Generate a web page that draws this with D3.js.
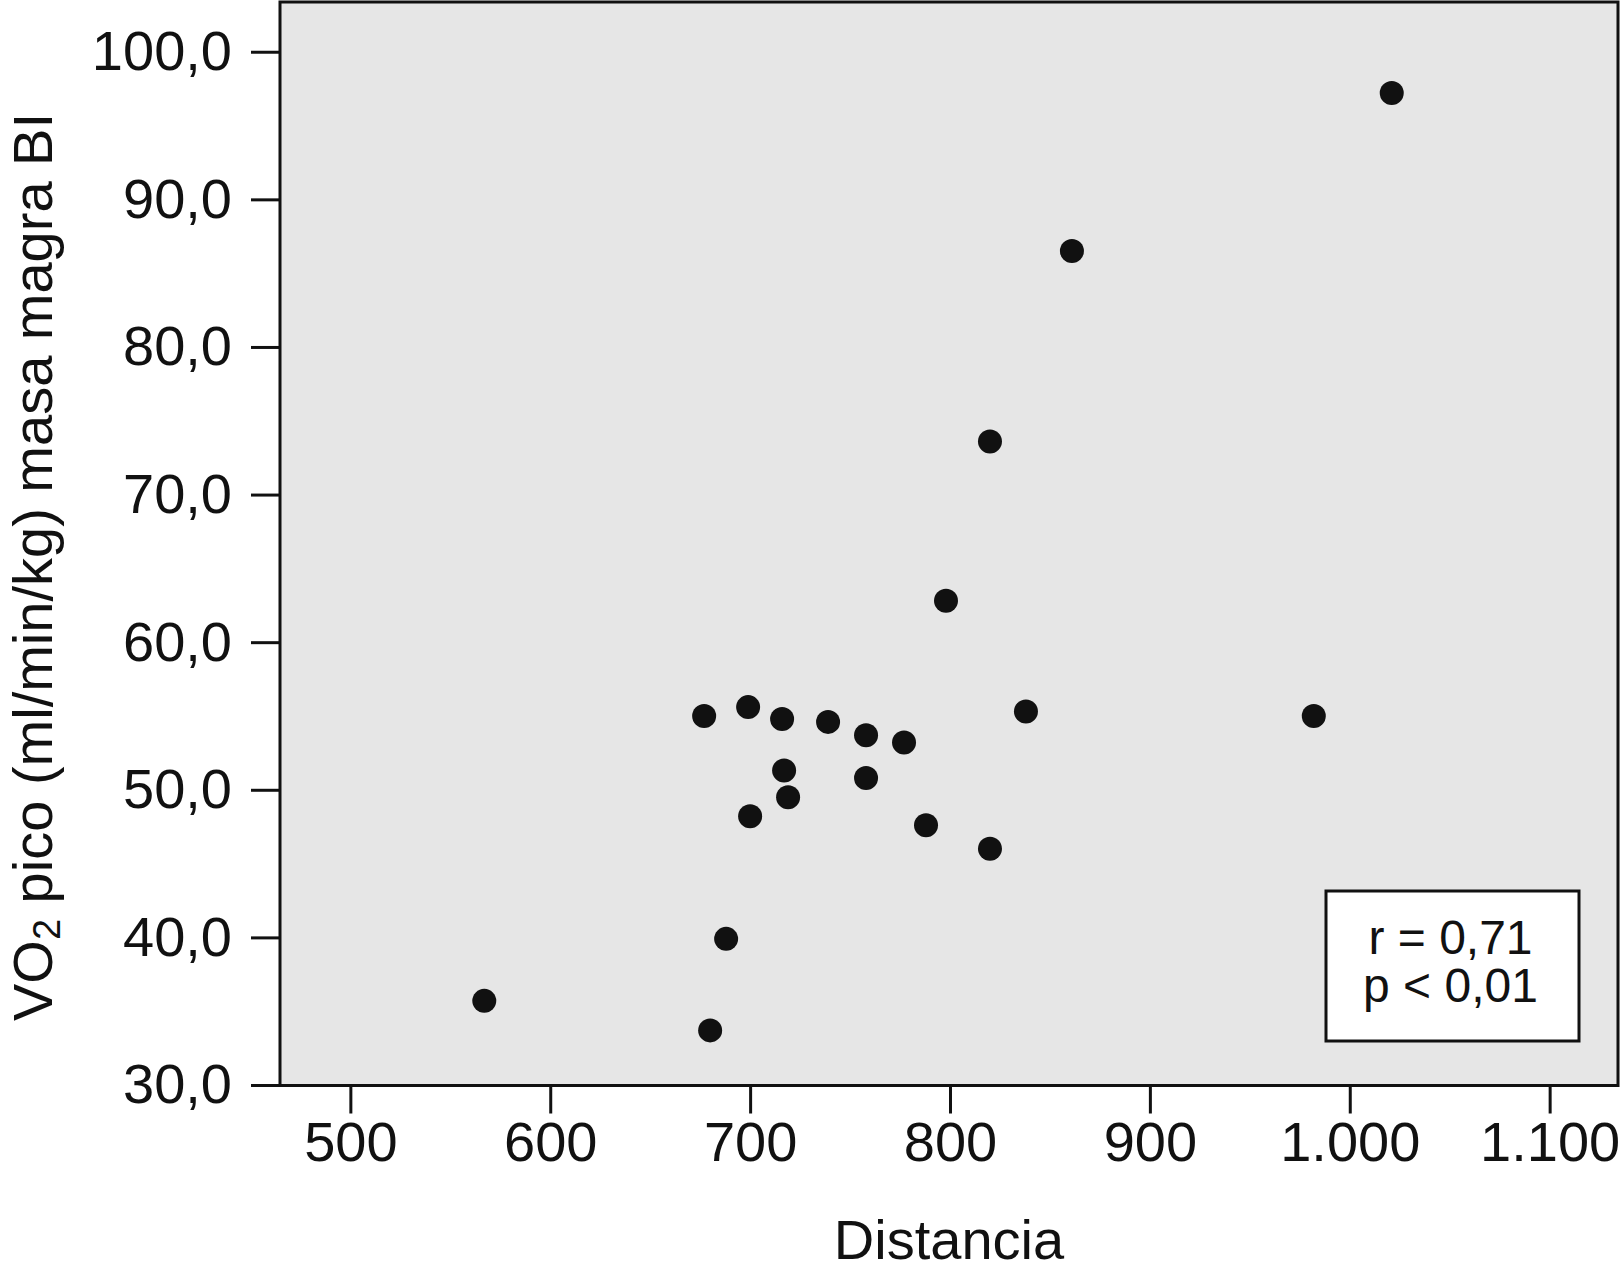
<!DOCTYPE html>
<html>
<head>
<meta charset="utf-8">
<script src="https://cdn.jsdelivr.net/npm/d3@7"></script>
<style>
  body { margin: 0; background: #fff; }
  svg text { font-family: "Liberation Sans", Arial, sans-serif; fill: #111; }
</style>
</head>
<body>
<div id="chart"></div>
<script>
// data
var distancia = [1021, 861, 820, 798, 677, 699, 716, 739, 758, 777, 838, 982, 717, 758, 719, 700, 788, 820, 688, 567, 680];
var vo2pico   = [97.2, 86.5, 73.6, 62.8, 55.0, 55.6, 54.8, 54.6, 53.7, 53.2, 55.3, 55.0, 51.3, 50.8, 49.5, 48.2, 47.6, 46.0, 39.9, 35.7, 33.7];
var xTicks = [500, 600, 700, 800, 900, 1000, 1100];
var xTickLabels = ["500", "600", "700", "800", "900", "1.000", "1.100"];
var yTicks = [30, 40, 50, 60, 70, 80, 90, 100];
var yTickLabels = ["30,0", "40,0", "50,0", "60,0", "70,0", "80,0", "90,0", "100,0"];
var statLines = ["r = 0,71", "p < 0,01"];

var data = distancia.map(function(d, i) { return {x: d, y: vo2pico[i]}; });

// set the dimensions and margins of the graph
var margin = {top: 2, right: 3, bottom: 191.5, left: 280},
    width = 1621 - margin.left - margin.right,
    height = 1277 - margin.top - margin.bottom;

var svg = d3.select("#chart")
    .append("svg")
    .attr("width", 1621)
    .attr("height", 1277)
    .append("g")
    .attr("transform", "translate(" + margin.left + "," + margin.top + ")");

var x = d3.scaleLinear().domain([464.8, 1134.2]).range([0, width]);
var y = d3.scaleLinear().domain([30, 103.37]).range([height - 0.5, 0]);

// plot background
svg.append("rect")
    .attr("width", width)
    .attr("height", height)
    .attr("fill", "#e6e6e6");

// X axis
var xAxis = svg.append("g")
    .attr("transform", "translate(0," + height + ")")
    .call(d3.axisBottom(x).tickValues(xTicks)
        .tickFormat(function(d, i) { return xTickLabels[i]; })
        .tickSize(28).tickPadding(8));
xAxis.select(".domain").remove();
xAxis.selectAll(".tick line").attr("stroke", "#111").attr("stroke-width", 3);
xAxis.selectAll(".tick text")
    .style("font-size", "56px")
    .attr("fill", "#111");

// Y axis
var yAxis = svg.append("g")
    .call(d3.axisLeft(y).tickValues(yTicks)
        .tickFormat(function(d, i) { return yTickLabels[i]; })
        .tickSize(29).tickPadding(19));
yAxis.select(".domain").remove();
yAxis.selectAll(".tick line").attr("stroke", "#111").attr("stroke-width", 3);
yAxis.selectAll(".tick text")
    .style("font-size", "56px")
    .attr("fill", "#111");

// points
svg.append("g")
    .selectAll("circle")
    .data(data)
    .enter()
    .append("circle")
    .attr("cx", function(d) { return x(d.x); })
    .attr("cy", function(d) { return y(d.y); })
    .attr("r", 12)
    .attr("fill", "#111");

// frame
svg.append("rect")
    .attr("width", width)
    .attr("height", height)
    .attr("fill", "none")
    .attr("stroke", "#111")
    .attr("stroke-width", 3);

// r / p box
var boxW = 253, boxH = 150;
var box = svg.append("g")
    .attr("transform", "translate(" + (width - 39 - boxW) + "," + (height - 44.5 - boxH) + ")");
box.append("rect")
    .attr("width", boxW)
    .attr("height", boxH)
    .attr("fill", "#fff")
    .attr("stroke", "#111")
    .attr("stroke-width", 3);
box.selectAll("text.stat")
    .data(statLines)
    .enter()
    .append("text")
    .attr("class", "stat")
    .attr("x", boxW / 2 - 2)
    .attr("y", function(d, i) { return 63 + i * 48; })
    .attr("text-anchor", "middle")
    .style("font-size", "48px")
    .text(function(d) { return d; });

// axis titles
svg.append("text")
    .attr("x", width / 2)
    .attr("y", 1259 - margin.top)
    .attr("text-anchor", "middle")
    .style("font-size", "56px")
    .text("Distancia");

var yTitle = svg.append("text")
    .attr("transform", "translate(" + (52 - margin.left) + "," + (567 - margin.top) + ") rotate(-90)")
    .attr("text-anchor", "middle")
    .style("font-size", "56px");
yTitle.append("tspan").text("VO");
yTitle.append("tspan").attr("baseline-shift", "-22%").style("font-size", "38px").text("2");
yTitle.append("tspan").text(" pico (ml/min/kg) masa magra BI");
</script>
</body>
</html>
